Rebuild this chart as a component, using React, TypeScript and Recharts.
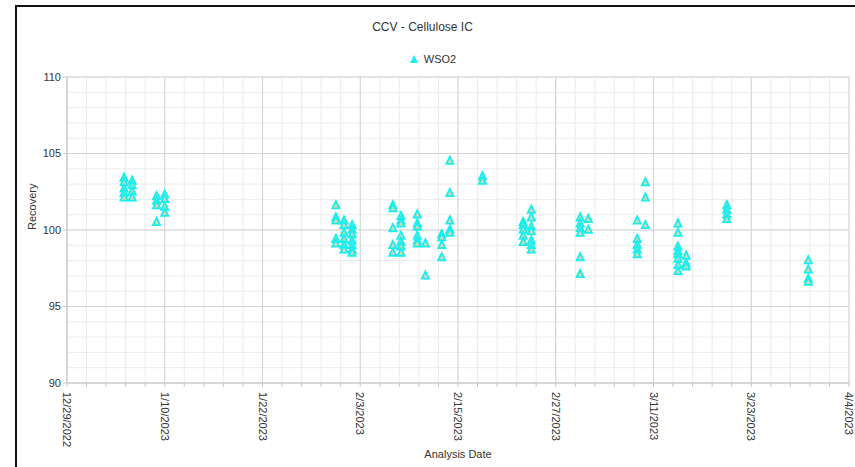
import { CartesianGrid, Legend, Scatter, ScatterChart, XAxis, YAxis } from 'recharts';

const chartTitle = 'CCV - Cellulose IC';
const seriesName = 'WSO2';

// one entry per analysis date
const analysisDates = [
  '1/5/2023', '1/6/2023', '1/9/2023', '1/10/2023', '1/31/2023', '2/1/2023',
  '2/2/2023', '2/7/2023', '2/8/2023', '2/10/2023', '2/11/2023', '2/13/2023',
  '2/14/2023', '2/18/2023', '2/23/2023', '2/24/2023', '3/2/2023', '3/3/2023',
  '3/9/2023', '3/10/2023', '3/14/2023', '3/15/2023', '3/20/2023', '3/30/2023',
];

const recoveryValues = [
  [103.4, 103.1, 102.7, 102.4, 102.1],
  [103.2, 102.9, 102.5, 102.1],
  [102.2, 101.9, 101.6, 100.5],
  [102.3, 102.0, 101.5, 101.1],
  [101.6, 100.8, 100.6, 99.4, 99.1],
  [100.6, 100.3, 99.8, 99.4, 99.0, 98.7],
  [100.3, 100.0, 99.7, 99.3, 99.0, 98.7, 98.5],
  [101.6, 101.4, 100.1, 99.0, 98.5],
  [100.9, 100.6, 100.4, 99.6, 99.2, 98.9, 98.5],
  [101.0, 100.4, 100.2, 99.6, 99.3, 99.1],
  [99.1, 97.0],
  [99.7, 99.5, 99.0, 98.2],
  [104.5, 102.4, 100.6, 100.0, 99.8],
  [103.5, 103.2],
  [100.5, 100.3, 100.0, 99.6, 99.2],
  [101.3, 100.8, 100.2, 99.9, 99.3, 99.0, 98.7],
  [100.8, 100.4, 100.1, 99.8, 98.2, 97.1],
  [100.7, 100.0],
  [100.6, 99.4, 99.0, 98.7, 98.4],
  [103.1, 102.1, 100.3],
  [100.4, 99.8, 98.9, 98.6, 98.4, 98.1, 97.7, 97.3],
  [98.3, 97.8, 97.6],
  [101.6, 101.3, 101.0, 100.7],
  [98.0, 97.4, 96.8, 96.6],
];

const xTickLabels = [
  '12/29/2022', '1/10/2023', '1/22/2023', '2/3/2023', '2/15/2023',
  '2/27/2023', '3/11/2023', '3/23/2023', '4/4/2023',
];
const yTicks = [90, 95, 100, 105, 110];

const toTime = (s: string) => {
  const [m, d, y] = s.split('/').map(Number);
  return Date.UTC(y, m - 1, d);
};

const xTicks = xTickLabels.map(toTime);
const xDomain = [xTicks[0], xTicks[xTicks.length - 1]];
// 5 minor divisions per major x tick, 1 unit on y
const minorXTicks: number[] = [];
for (let i = 0; i < xTicks.length - 1; i++) {
  for (let j = 0; j < 5; j++) {
    minorXTicks.push(xTicks[i] + ((xTicks[i + 1] - xTicks[i]) * j) / 5);
  }
}
minorXTicks.push(xDomain[1]);
const minorYTicks: number[] = [];
for (let v = 90; v <= 110; v++) minorYTicks.push(v);

const data = analysisDates.flatMap((date, i) =>
  recoveryValues[i].map((value) => ({ t: toTime(date), value })),
);

const CYAN = '#17eeee';
const FONT = '"Liberation Sans", Arial, sans-serif';

const formatDate = (t: number) => {
  const d = new Date(t);
  return `${d.getUTCMonth() + 1}/${d.getUTCDate()}/${d.getUTCFullYear()}`;
};

// labels only on the major ticks, minor ticks keep just their tick line
const DateTick = ({ x, y, payload }: any) =>
  xTicks.includes(payload.value) ? (
    <text
      x={x}
      y={y}
      dx={3}
      dy={4}
      transform={`rotate(90, ${x}, ${y})`}
      textAnchor="start"
      fontSize={11}
      fill="#333"
      fontFamily={FONT}
    >
      {formatDate(payload.value)}
    </text>
  ) : (
    <g />
  );

const TriangleMark = ({ cx, cy }: any) => (
  <path
    d={`M${cx},${cy - 4.5}L${cx + 3.6},${cy + 2.8}L${cx - 3.6},${cy + 2.8}Z`}
    fill="#d6d8ac"
    stroke={CYAN}
    strokeWidth={1.8}
  />
);

const LegendContent = () => (
  <div style={{ textAlign: 'center', fontFamily: FONT, fontSize: 11, color: '#333' }}>
    <svg width={10} height={10} style={{ verticalAlign: 'middle', marginRight: 5 }}>
      <path d="M5,1L9,9L1,9Z" fill={CYAN} />
    </svg>
    <span style={{ verticalAlign: 'middle' }}>{seriesName}</span>
  </div>
);

const App = () => {
  return (
    <div style={{ position: 'relative', width: 855, height: 467, background: '#fff' }}>
      <style>{'body { margin: 0; }'}</style>
      <div
        style={{
          position: 'absolute',
          left: 15,
          top: 5,
          width: 838,
          height: 460,
          borderLeft: '2px solid #111',
          borderTop: '2px solid #111',
        }}
      />
      <div
        style={{
          position: 'absolute',
          top: 20,
          left: 0,
          width: 845,
          textAlign: 'center',
          fontFamily: FONT,
          fontSize: 12,
          color: '#333',
        }}
      >
        {chartTitle}
      </div>
      <ScatterChart
        width={855}
        height={467}
        margin={{ top: 77, right: 6, bottom: 24, left: 27 }}
        style={{ position: 'absolute', left: 0, top: 0 }}
      >
        <CartesianGrid stroke="#ebebeb" horizontalValues={minorYTicks} />
        <CartesianGrid stroke="#d2d2d2" verticalValues={xTicks} horizontalValues={yTicks} />
        <XAxis
          dataKey="t"
          type="number"
          domain={xDomain}
          ticks={minorXTicks}
          interval={0}
          height={60}
          tick={<DateTick />}
          tickSize={4}
          stroke="#c8c8c8"
          label={{ value: 'Analysis Date', position: 'bottom', offset: 7, fontSize: 11, fill: '#333', fontFamily: FONT }}
        />
        <YAxis
          dataKey="value"
          type="number"
          domain={[90, 110]}
          ticks={yTicks}
          interval={0}
          width={40}
          tickSize={4}
          stroke="#c8c8c8"
          tick={{ fontSize: 11, fill: '#333', fontFamily: FONT }}
          label={{ value: 'Recovery', angle: -90, position: 'insideLeft', offset: 0, dx: 5, fontSize: 11, fill: '#333', fontFamily: FONT }}
        />
        <Legend verticalAlign="middle" wrapperStyle={{ top: 52, left: 10, width: 845 }} content={<LegendContent />} />
        <Scatter name={seriesName} data={data} fill={CYAN} shape={<TriangleMark />} isAnimationActive={false} />
      </ScatterChart>
    </div>
  );
};

export default App;
